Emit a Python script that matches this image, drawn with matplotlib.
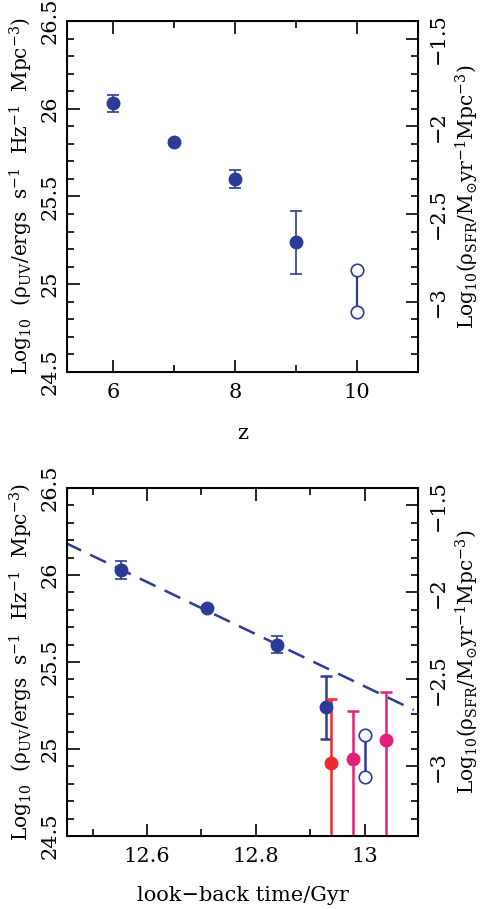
import matplotlib.pyplot as plt
from matplotlib.ticker import MultipleLocator

plt.rcParams['font.family'] = 'DejaVu Serif'
plt.rcParams['mathtext.fontset'] = 'dejavuserif'

BLUE = '#2c3b98'
RED = '#ee2a2e'
PINK = '#e6207a'

# conversion log rho_SFR = log rho_UV - 27.9
SFR_OFFSET = 27.9

# top panel: redshift
z_filled = [6, 7, 8, 9]
uv_filled = [26.03, 25.81, 25.60, 25.24]
uv_err_lo = [0.05, 0.01, 0.05, 0.18]
uv_err_hi = [0.05, 0.01, 0.05, 0.18]
z_open = [10, 10]
uv_open = [25.08, 24.84]

# bottom panel: look-back time
t_filled = [12.552, 12.711, 12.839, 12.929]
t_open = [13.0, 13.0]
t_red = [12.939]
uv_red = [24.92]
red_err_hi = [0.37]
t_pink = [12.979, 13.039]
uv_pink = [24.94, 25.05]
pink_err_hi = [0.28, 0.28]
fit_t = [12.45, 13.09]
fit_uv = [26.185, 25.225]


def fmt(v, p):
    return f'{v:g}'.replace('-', '\u2212')


def style_axes(ax, xmaj, xmin):
    ax.set_ylim(24.5, 26.5)
    ax.yaxis.set_major_locator(MultipleLocator(0.5))
    ax.yaxis.set_minor_locator(MultipleLocator(0.1))
    ax.xaxis.set_major_locator(MultipleLocator(xmaj))
    ax.xaxis.set_minor_locator(MultipleLocator(xmin))
    ax.xaxis.set_major_formatter(fmt)
    ax.yaxis.set_major_formatter(fmt)
    ax.tick_params(which='both', direction='in', top=True, right=False,
                   width=1.2, labelsize=15)
    ax.tick_params(which='major', length=9)
    ax.tick_params(which='minor', length=5)
    ax.tick_params(axis='y', labelrotation=90, pad=5)
    ax.tick_params(axis='x', pad=8)
    for lab in ax.get_yticklabels():
        lab.set_va('center')
    for s in ax.spines.values():
        s.set_linewidth(1.4)
    ax.set_ylabel(r'$\rm Log_{10}\ \ (\rho_{UV}/ergs\ \ s^{-1}\ \ Hz^{-1}\ \ Mpc^{-3})$',
                  fontsize=14.5, labelpad=4)
    ax2 = ax.twinx()
    ax2.set_ylim(24.5 - SFR_OFFSET, 26.5 - SFR_OFFSET)
    ax2.yaxis.set_major_locator(MultipleLocator(0.5))
    ax2.yaxis.set_minor_locator(MultipleLocator(0.1))
    ax2.tick_params(which='both', direction='in', width=1.2, labelsize=15,
                    labelrotation=90, pad=8)
    ax2.tick_params(which='major', length=9)
    ax2.tick_params(which='minor', length=5)
    ax2.yaxis.set_major_formatter(fmt)
    for lab in ax2.get_yticklabels():
        lab.set_va('center')
    ax2.set_ylabel(r'$\rm Log_{10}(\rho_{SFR}/M_{\odot}yr^{-1}Mpc^{-3})$',
                   fontsize=14.5, labelpad=4)
    return ax2


fig = plt.figure(figsize=(4.83, 9.09), dpi=100)

ax1 = fig.add_axes([0.1387, 0.5908, 0.7267, 0.3861])
ax1.errorbar(z_filled, uv_filled, yerr=[uv_err_lo, uv_err_hi], fmt='o',
             color=BLUE, ms=9, capsize=4, elinewidth=1.2, capthick=1.2)
ax1.plot(z_open, uv_open, '-o', color=BLUE, mfc='white', ms=9, lw=1.6, mew=1.2)
ax1.set_xlim(5.25, 11.0)
style_axes(ax1, 2, 1)
ax1.set_xlabel('z', fontsize=15, labelpad=16)

ax3 = fig.add_axes([0.1387, 0.0803, 0.7267, 0.3828])
ax3.plot(fit_t, fit_uv, '--', color=BLUE, lw=1.8, dashes=(7, 4))
ax3.errorbar(t_filled[:3], uv_filled[:3], yerr=[uv_err_lo[:3], uv_err_hi[:3]],
             fmt='o', color=BLUE, ms=9, capsize=4, elinewidth=1.2, capthick=1.2)
ax3.errorbar(t_filled[3:], uv_filled[3:], yerr=[uv_err_lo[3:], uv_err_hi[3:]],
             fmt='o', color=BLUE, ms=9, capsize=4, elinewidth=1.8, capthick=1.8)
ax3.errorbar(t_red, uv_red, yerr=[[1.0], red_err_hi], fmt='o', color=RED,
             ms=9, capsize=4, elinewidth=1.8, capthick=1.8)
ax3.errorbar(t_pink, uv_pink, yerr=[[1.0, 1.0], pink_err_hi], fmt='o',
             color=PINK, ms=9, capsize=4, elinewidth=1.8, capthick=1.8)
ax3.plot(t_open, uv_open, '-o', color=BLUE, mfc='white', ms=9, lw=1.8, mew=1.2)
ax3.set_xlim(12.453, 13.098)
style_axes(ax3, 0.2, 0.1)
ax3.set_xlabel('look\u2212back time/Gyr', fontsize=15, labelpad=14)

fig.savefig('out.png', dpi=100)
